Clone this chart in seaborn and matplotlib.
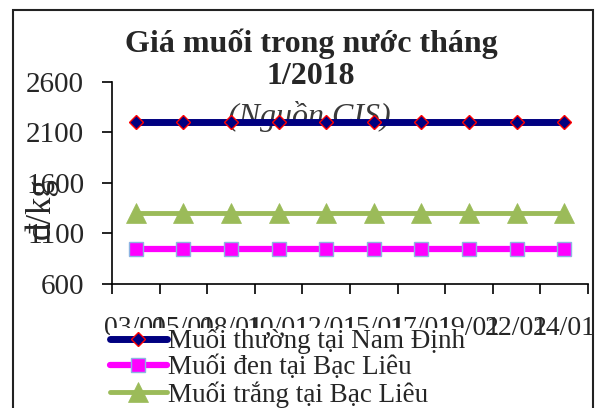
import matplotlib
matplotlib.use("Agg")
import matplotlib.pyplot as plt
import matplotlib.patches as mpatches
import seaborn as sns
import pandas as pd
import numpy as np

# ---- data ----
dates = ["03/01", "05/01", "08/01", "10/01", "12/01", "15/01", "17/01", "19/01", "22/01", "24/01"]
nam_dinh = [2200, 2200, 2200, 2200, 2200, 2200, 2200, 2200, 2200, 2200]
den_bac_lieu = [950, 950, 950, 950, 950, 950, 950, 950, 950, 950]
trang_bac_lieu = [1300, 1300, 1300, 1300, 1300, 1300, 1300, 1300, 1300, 1300]
series_names = ["Muối thường tại Nam Định", "Muối đen tại Bạc Liêu", "Muối trắng tại Bạc Liêu"]
y_ticks = [600, 1100, 1600, 2100, 2600]

sns.set_theme(style="white")
plt.rcParams["font.family"] = ["Liberation Serif", "DejaVu Serif"]

W, H = 603, 408
fig = plt.figure(figsize=(W / 100, H / 100), dpi=100)
ax = fig.add_axes([112 / W, 1 - 284 / H, (588 - 112) / W, (284 - 82) / H])

df = pd.DataFrame({"idx": np.arange(len(dates)), "date": dates})
styles = [
    dict(color="#000080", marker="D", markersize=7, linewidth=5,
         markeredgecolor="#FF0000", markeredgewidth=1.0, markerfacecolor="#000080"),
    dict(color="#FF00FF", marker="s", markersize=9.5, linewidth=4.5,
         markeredgecolor="#8DB4E2", markeredgewidth=1.0, markerfacecolor="#FF00FF"),
    dict(color="#9BBB59", marker="^", markersize=14, linewidth=3.5,
         markeredgecolor="#9BBB59", markeredgewidth=0.5, markerfacecolor="#9BBB59"),
]
for name, vals, st in zip(series_names, [nam_dinh, den_bac_lieu, trang_bac_lieu], styles):
    sns.lineplot(x=df["idx"], y=vals, ax=ax, label=name, zorder=3, **st)

ax.set_xlim(-0.5, len(dates) - 0.5)
ax.set_ylim(y_ticks[0], y_ticks[-1])
ax.set_yticks(y_ticks)
ax.set_yticklabels([str(v) for v in y_ticks], fontsize=21)
ax.set_xticks(np.arange(len(dates)))
ax.set_xticklabels(dates, fontsize=20)
ax.set_xticks(np.arange(len(dates) + 1) - 0.5, minor=True)
ax.tick_params(axis="x", which="major", length=0, pad=23)
ax.tick_params(axis="x", which="minor", length=7, width=1.2, color="black", direction="out", bottom=True)
ax.tick_params(axis="y", length=7, width=1.2, color="black", direction="out", left=True, pad=13)
ax.set_xlabel("")
ax.set_ylabel("")
for s in ["top", "right"]:
    ax.spines[s].set_visible(False)
for s in ["left", "bottom"]:
    ax.spines[s].set_color("black")
    ax.spines[s].set_linewidth(1.2)
ax.grid(False)
ax.get_legend().remove()

# subtitle behind lines
ax.text(309 / W, 1 - 117 / H, "(Nguồn CIS)", transform=fig.transFigure, ha="center", va="center",
        fontsize=23, style="italic", color="#3a3a3a", zorder=1)

fig.text(311 / W, 1 - 44 / H, "Giá muối trong nước tháng", ha="center", va="center",
         fontsize=23, fontweight="bold")
fig.text(311 / W, 1 - 77 / H, "1/2018", ha="center", va="center", fontsize=23, fontweight="bold")
fig.text(41 / W, 1 - 208 / H, "đ/kg", ha="center", va="center", rotation=90, fontsize=25)

handles, labels = ax.get_legend_handles_labels()
leg = fig.legend(handles, labels, loc="upper left", bbox_to_anchor=(110 / W, 1 - 328 / H),
                 bbox_transform=fig.transFigure, fontsize=19.5, frameon=True, facecolor="white",
                 edgecolor="none", framealpha=1, borderpad=0.0, borderaxespad=0, labelspacing=0.03,
                 handlelength=2.1, handletextpad=0.05, fancybox=False, numpoints=1)

rect = mpatches.Rectangle((13 / W, -0.05), (593 - 13) / W, 1.05 - 10 / H, transform=fig.transFigure,
                          fill=False, edgecolor="#222222", linewidth=1.5, zorder=10)
fig.patches.append(rect)

fig.savefig("out.png", dpi=100)
